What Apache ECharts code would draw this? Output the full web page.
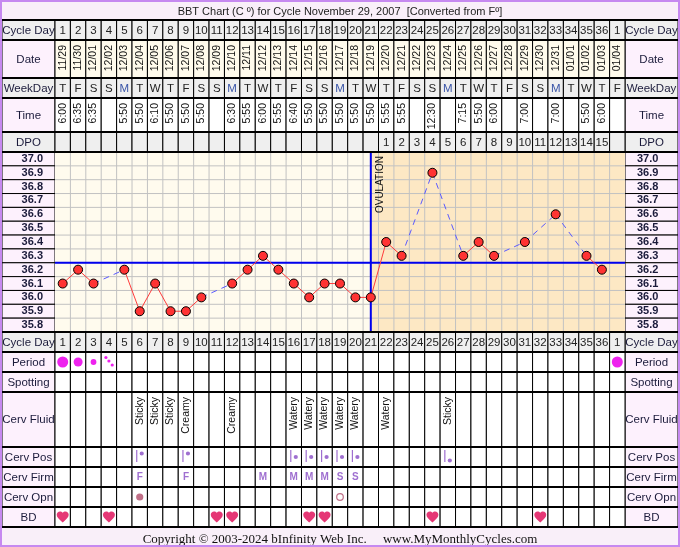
<!DOCTYPE html>
<html>
<head>
<meta charset="utf-8">
<script src="https://cdn.jsdelivr.net/npm/echarts@6/dist/echarts.min.js"></script>
<style>
html, body { margin: 0; padding: 0; background: #fff; }
#chart { width: 680px; height: 547px; }
</style>
</head>
<body>
<div id="chart"></div>
<script>
// ---- chart data ----
var dayLabels = ['1','2','3','4','5','6','7','8','9','10','11','12','13','14','15','16','17','18','19','20',
  '21','22','23','24','25','26','27','28','29','30','31','32','33','34','35','36','1'];
var dates = ['11/29','11/30','12/01','12/02','12/03','12/04','12/05','12/06','12/07','12/08','12/09','12/10',
  '12/11','12/12','12/13','12/14','12/15','12/16','12/17','12/18','12/19','12/20','12/21','12/22','12/23',
  '12/24','12/25','12/26','12/27','12/28','12/29','12/30','12/31','01/01','01/02','01/03','01/04'];
var weekDays = ['T','F','S','S','M','T','W','T','F','S','S','M','T','W','T','F','S','S','M','T','W',
  'T','F','S','S','M','T','W','T','F','S','S','M','T','W','T','F'];
var times = ['6:00','6:35','6:35','','5:50','5:50','6:10','5:50','5:50','5:50','','6:30','5:55','6:00','5:55',
  '6:40','5:50','5:50','5:50','5:50','5:50','5:55','5:55','','12:30','','7:15','5:50','6:00','','7:00','',
  '7:00','','5:50','6:00',''];
var dpo = ['','','','','','','','','','','','','','','','','','','','','',
  '1','2','3','4','5','6','7','8','9','10','11','12','13','14','15',''];
var temps = [36.1,36.2,36.1,null,36.2,35.9,36.1,35.9,35.9,36.0,null,36.1,36.2,36.3,36.2,36.1,36.0,36.1,36.1,
  36.0,36.0,36.4,36.3,null,36.9,null,36.3,36.4,36.3,null,36.4,null,36.6,null,36.3,36.2,null];
var tempTicks = ['37.0','36.9','36.8','36.7','36.6','36.5','36.4','36.3','36.2','36.1','36.0','35.9','35.8'];
var coverline = 36.25;
var ovulationDay = 21;
// H heavy, M medium, L light, S spotting
var period = ['H','M','L','S','','','','','','','','','','','','','','','','','','','','','','','','','','',
  '','','','','','','H'];
var spotting = ['','','','','','','','','','','','','','','','','','','','','','','','','','','','','','',
  '','','','','','',''];
var cervFluid = ['','','','','','Sticky','Sticky','Sticky','Creamy','','','Creamy','','','','Watery','Watery',
  'Watery','Watery','Watery','','Watery','','','','Sticky','','','','','','','','','','',''];
// H high, M middle, L low
var cervPos = ['','','','','','H','','','H','','','','','','','M','M','M','M','M','','','','','','L',
  '','','','','','','','','','',''];
var cervFirm = ['','','','','','F','','','F','','','','','M','','M','M','M','S','S','','','','','','',
  '','','','','','','','','','',''];
// C closed, O open
var cervOpn = ['','','','','','C','','','','','','','','','','','','','O','','','','','','','',
  '','','','','','','','','','',''];
var bd = [1,0,0,1,0,0,0,0,0,0,1,1,0,0,0,0,1,1,0,0,0,0,0,0,1,0,0,0,0,0,0,1,0,0,0,0,0];

var titleText = 'BBT Chart (C \u00ba) for Cycle November 29, 2007  [Converted from F\u00ba]';
var footerText = 'Copyright \u00a9 2003-2024 bInfinity Web Inc.     www.MyMonthlyCycles.com';

// ---- layout ----
var nCols = dayLabels.length;
var plotW = 570;
var colW = plotW / nCols;
var labelW = 53 / colW;          // label column width in column units
var FONT = '"Liberation Sans", Arial, sans-serif';
var INK = '#1b1b3b';
var PURPLE = '#9f6fd0';
var PINK = '#fdf1fd';
var GREY = '#efefef';
var HEART = 'M12 21.35l-1.45-1.32C5.4 15.36 2 12.28 2 8.5 2 5.42 4.42 3 7.5 3c1.74 0 3.41.81 4.5 2.09C13.09 3.81 14.76 3 16.5 3 19.58 3 22 5.42 22 8.5c0 3.78-3.4 6.86-8.55 11.54L12 21.35z';

var rows = [
  { label: 'Cycle Day', h: 20, vals: dayLabels, kind: 'text', bg: GREY, labelBg: GREY },
  { label: 'Date', h: 38, vals: dates, kind: 'vtext', bg: '#fffbec', labelBg: PINK },
  { label: 'WeekDay', h: 20, vals: weekDays, kind: 'week', bg: GREY, labelBg: GREY },
  { label: 'Time', h: 34, vals: times, kind: 'vtext', bg: '#ffffff', labelBg: PINK },
  { label: 'DPO', h: 20, vals: dpo, kind: 'text', bg: GREY, labelBg: GREY },
  { label: '', h: 180, kind: 'temp', labelBg: PINK },
  { label: 'Cycle Day', h: 20, vals: dayLabels, kind: 'text', bg: GREY, labelBg: GREY },
  { label: 'Period', h: 20, vals: period, kind: 'period', bg: '#ffffff', labelBg: PINK },
  { label: 'Spotting', h: 20, vals: spotting, kind: 'period', bg: '#ffffff', labelBg: PINK },
  { label: 'Cerv Fluid', h: 55, vals: cervFluid, kind: 'vtext', bg: '#ffffff', labelBg: PINK },
  { label: 'Cerv Pos', h: 20, vals: cervPos, kind: 'pos', bg: '#ffffff', labelBg: PINK },
  { label: 'Cerv Firm', h: 20, vals: cervFirm, kind: 'firm', bg: '#ffffff', labelBg: PINK },
  { label: 'Cerv Opn', h: 20, vals: cervOpn, kind: 'opn', bg: '#ffffff', labelBg: PINK },
  { label: 'BD', h: 20, vals: bd, kind: 'bd', bg: '#ffffff', labelBg: PINK }
];

// build the table cells
var cells = [];
var edges = [];
var tableH = 0;
rows.forEach(function (row) {
  edges.push(tableH);
  if (row.kind === 'temp') {
    var sub = row.h / tempTicks.length;
    tempTicks.forEach(function (t, k) {
      var y0 = tableH + k * sub, y1 = tableH + (k + 1) * sub;
      cells.push({ x0: -labelW, x1: 0, y0: y0, y1: y1, bg: row.labelBg, kind: 'tickL', val: t });
      cells.push({ x0: nCols, x1: nCols + labelW, y0: y0, y1: y1, bg: row.labelBg, kind: 'tickR', val: t });
    });
  } else {
    cells.push({ x0: -labelW, x1: 0, y0: tableH, y1: tableH + row.h, bg: row.labelBg, kind: 'label', val: row.label });
    cells.push({ x0: nCols, x1: nCols + labelW, y0: tableH, y1: tableH + row.h, bg: row.labelBg, kind: 'label', val: row.label });
    for (var i = 0; i < nCols; i++) {
      cells.push({ x0: i, x1: i + 1, y0: tableH, y1: tableH + row.h, bg: row.bg, kind: row.kind, val: row.vals[i] });
    }
  }
  tableH += row.h;
});
edges.push(tableH);

function txt(x, y, s, o) {
  o = o || {};
  return {
    type: 'text', x: x, y: y, rotation: o.rot || 0,
    style: {
      text: s, fill: o.color || INK, fontSize: o.size || 11, fontFamily: o.family || FONT,
      fontWeight: o.weight || 'normal', align: o.align || 'center', verticalAlign: o.valign || 'middle'
    }
  };
}

function renderCell(params, api) {
  var c = cells[params.dataIndex];
  var a = api.coord([c.x0, c.y0]);
  var b = api.coord([c.x1, c.y1]);
  var x = a[0], y = a[1], w = b[0] - a[0], h = b[1] - a[1];
  var cx = x + w / 2, cy = y + h / 2;
  var kids = [{ type: 'rect', shape: { x: x, y: y, width: w, height: h },
    style: { fill: c.bg, stroke: '#000', lineWidth: 1 } }];
  var v = c.val;
  if (c.kind === 'label') {
    kids.push(txt(cx, cy + 0.5, v, { size: 11.5 }));
  } else if (c.kind === 'tickL') {
    kids.push(txt(x + w - 12, cy, v, { weight: 'bold', align: 'right' }));
  } else if (c.kind === 'tickR') {
    kids.push(txt(x + 12, cy, v, { weight: 'bold', align: 'left' }));
  } else if (c.kind === 'text' && v) {
    kids.push(txt(cx, cy + 0.5, v, { size: 11.5, color: '#222' }));
  } else if (c.kind === 'week') {
    kids.push(txt(cx, cy + 0.5, v, { size: 11.5, color: v === 'M' ? '#3a55a8' : '#222' }));
  } else if (c.kind === 'vtext' && v) {
    kids.push(txt(cx, y + 5, v, { size: 10.5, color: '#111', rot: Math.PI / 2, align: 'right' }));
  } else if (c.kind === 'period' && v) {
    var mag = '#ee22ee';
    if (v === 'S') {
      [[-3, -4.5], [0, -1], [3.3, 3]].forEach(function (d) {
        kids.push({ type: 'circle', shape: { cx: cx + d[0], cy: cy + d[1], r: 1.6 }, style: { fill: mag } });
      });
    } else {
      var r = v === 'H' ? 5.5 : (v === 'M' ? 4.5 : 2.9);
      kids.push({ type: 'circle', shape: { cx: cx, cy: cy, r: r }, style: { fill: mag } });
    }
  } else if (c.kind === 'pos' && v) {
    var dy = v === 'H' ? -3.5 : (v === 'M' ? 0 : 3.5);
    kids.push({ type: 'line', shape: { x1: cx - 3, y1: cy - 7, x2: cx - 3, y2: cy + 5 },
      style: { stroke: PURPLE, lineWidth: 1.2 } });
    kids.push({ type: 'circle', shape: { cx: cx + 2, cy: cy + dy, r: 2.1 }, style: { fill: PURPLE } });
  } else if (c.kind === 'firm' && v) {
    kids.push(txt(cx, cy, v, { size: 10, weight: 'bold', color: PURPLE }));
  } else if (c.kind === 'opn' && v) {
    if (v === 'C') {
      kids.push({ type: 'circle', shape: { cx: cx, cy: cy, r: 3.6 }, style: { fill: '#c07088' } });
    } else {
      kids.push({ type: 'circle', shape: { cx: cx, cy: cy, r: 3.3 },
        style: { fill: '#fff', stroke: '#c07088', lineWidth: 1.2 } });
    }
  } else if (c.kind === 'bd' && v) {
    kids.push({ type: 'path', shape: { pathData: HEART, x: cx - 6, y: cy - 5.5, width: 12, height: 11, layout: 'cover' },
      style: { fill: '#e53775' } });
  }
  return { type: 'group', children: kids };
}

function renderRule(params, api) {
  var yv = api.value(0);
  var a = api.coord([-labelW, yv]);
  var b = api.coord([nCols + labelW, yv]);
  return { type: 'line', shape: { x1: a[0], y1: a[1], x2: b[0], y2: b[1] },
    style: { stroke: '#000', lineWidth: 2 } };
}

// temperature plot background, grid, coverline and ovulation marker
var yMin = 35.75, yMax = 37.05, yStep = 0.1;
function renderPlotBg(params, api) {
  var kids = [];
  var tl = api.coord([0, yMax]), br = api.coord([nCols, yMin]);
  kids.push({ type: 'rect', shape: { x: tl[0], y: tl[1], width: br[0] - tl[0], height: br[1] - tl[1] },
    style: { fill: '#fffbee' } });
  var ov = api.coord([ovulationDay - 0.5, yMax]);
  kids.push({ type: 'rect', shape: { x: ov[0], y: tl[1], width: br[0] - ov[0], height: br[1] - tl[1] },
    style: { fill: '#fde8c4' } });
  for (var i = 1; i < nCols; i++) {
    var p = api.coord([i, yMin]);
    kids.push({ type: 'line', shape: { x1: p[0], y1: tl[1], x2: p[0], y2: br[1] },
      style: { stroke: '#c2c2c2', lineWidth: 1 } });
  }
  for (var k = 1; k < tempTicks.length; k++) {
    var q = api.coord([0, yMin + k * yStep]);
    kids.push({ type: 'line', shape: { x1: tl[0], y1: q[1], x2: br[0], y2: q[1] },
      style: { stroke: '#c2c2c2', lineWidth: 1 } });
  }
  var cl = api.coord([0, coverline]);
  kids.push({ type: 'line', shape: { x1: tl[0], y1: cl[1], x2: br[0], y2: cl[1] },
    style: { stroke: '#0000ee', lineWidth: 2 } });
  kids.push({ type: 'line', shape: { x1: ov[0], y1: tl[1], x2: ov[0], y2: br[1] },
    style: { stroke: '#0000ee', lineWidth: 2 } });
  kids.push(txt(ov[0] + 4, tl[1] + 4, 'OVULATION', { size: 10, color: '#111', rot: Math.PI / 2, align: 'right', valign: 'top' }));
  return { type: 'group', children: kids };
}

// dashed links across missing temperatures
var gapLinks = [];
var last = -1;
temps.forEach(function (t, i) {
  if (t == null) return;
  if (last >= 0 && i - last > 1) {
    gapLinks.push({ coords: [[last + 0.5, temps[last]], [i + 0.5, t]] });
  }
  last = i;
});

var lineData = temps.map(function (t, i) { return [i + 0.5, t == null ? '-' : t]; });

var chart = echarts.init(document.getElementById('chart'));
chart.setOption({
  animation: false,
  backgroundColor: '#ffffff',
  title: [
    { text: titleText, left: 'center', top: 1,
      textStyle: { fontSize: 11, fontWeight: 'normal', color: '#222', fontFamily: FONT } },
    { text: footerText, left: 'center', top: 528,
      textStyle: { fontSize: 13, fontWeight: 'normal', color: '#111', fontFamily: '"Liberation Serif", "Times New Roman", serif' } }
  ],
  graphic: { elements: [
    { type: 'rect', z: -10, shape: { x: 0, y: 0, width: 680, height: 20 }, style: { fill: '#f9eff9' } },
    { type: 'rect', z: -10, shape: { x: 0, y: 527, width: 680, height: 20 }, style: { fill: '#f9eff9' } },
    { type: 'rect', z: 100, shape: { x: 1, y: 1, width: 678, height: 545 },
      style: { fill: null, stroke: '#c689f0', lineWidth: 2 } }
  ] },
  grid: [
    { left: 2, top: 20, width: 676, height: tableH },
    { left: 55, top: 152, width: plotW, height: 180 }
  ],
  xAxis: [
    { gridIndex: 0, type: 'value', min: -labelW, max: nCols + labelW, show: false },
    { gridIndex: 1, type: 'value', min: 0, max: nCols, show: false }
  ],
  yAxis: [
    { gridIndex: 0, type: 'value', min: 0, max: tableH, inverse: true, show: false },
    { gridIndex: 1, type: 'value', min: yMin, max: yMax, show: false }
  ],
  series: [
    { type: 'custom', xAxisIndex: 0, yAxisIndex: 0, z: 1, silent: true,
      data: cells.map(function (c) { return [c.x0, c.y0, c.x1, c.y1]; }),
      encode: { x: [0, 2], y: [1, 3] }, renderItem: renderCell },
    { type: 'custom', xAxisIndex: 0, yAxisIndex: 0, z: 3, silent: true,
      data: edges.map(function (e) { return [e]; }), encode: { y: 0 }, renderItem: renderRule },
    { type: 'custom', xAxisIndex: 1, yAxisIndex: 1, z: 2, silent: true,
      data: [[0, yMin]], renderItem: renderPlotBg },
    { type: 'lines', coordinateSystem: 'cartesian2d', xAxisIndex: 1, yAxisIndex: 1, z: 4, silent: true,
      data: gapLinks, lineStyle: { color: '#5a5aff', width: 1, type: [6, 5], opacity: 1 } },
    { type: 'line', xAxisIndex: 1, yAxisIndex: 1, z: 5, silent: true,
      data: lineData, connectNulls: false, symbol: 'circle', symbolSize: 9, showSymbol: true,
      lineStyle: { color: '#ff3b3b', width: 1 },
      itemStyle: { color: '#ff3333', borderColor: '#000', borderWidth: 1 } }
  ]
});
</script>
</body>
</html>
